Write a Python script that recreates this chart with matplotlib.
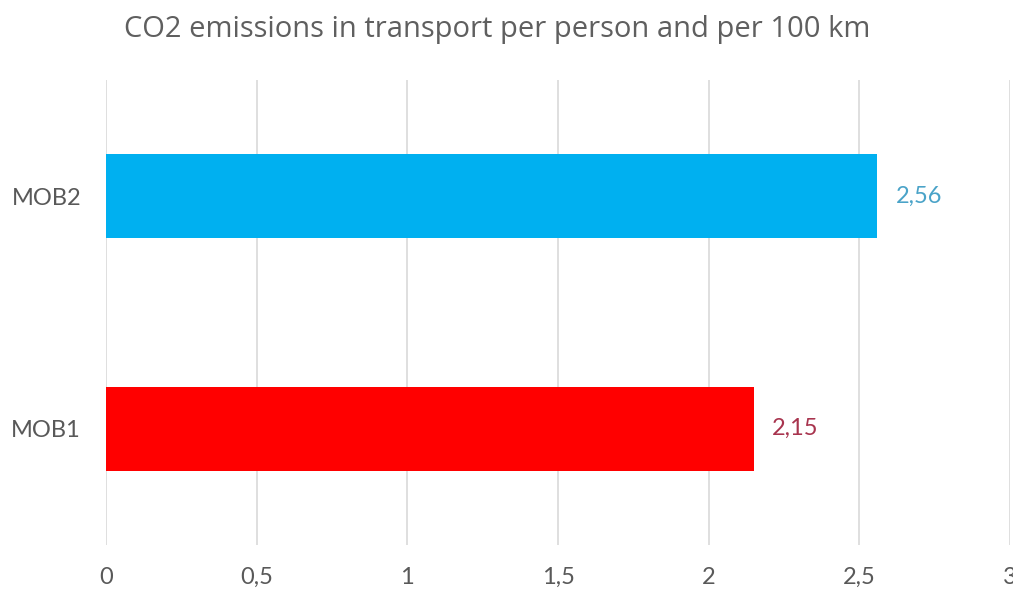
import matplotlib
matplotlib.use("Agg")
import matplotlib.pyplot as plt
from matplotlib.ticker import FuncFormatter

categories = ["MOB1", "MOB2"]
values = [2.15, 2.56]
bar_colors = ["#FF0000", "#00B0F0"]
label_colors = ["#A8344E", "#4AA3C8"]
xticks = [0, 0.5, 1, 1.5, 2, 2.5, 3]
title = "CO2 emissions in transport per person and per 100 km"

plt.rcParams['font.family'] = ['Lato', 'DejaVu Sans']

fig = plt.figure(figsize=(10.13, 5.90), dpi=100)
ax = fig.add_axes([106/1013, 45/590, (1010-106)/1013, 465/590])

ypos = list(range(len(categories)))
ax.barh(ypos, values, height=0.36, color=bar_colors, zorder=3)
for y, v, c in zip(ypos, values, label_colors):
    ax.text(v + 0.06, y, f"{v:.2f}".replace(".", ","), va="center", ha="left",
            color=c, fontsize=17)

ax.set_xlim(0, 3)
ax.set_ylim(-0.5, 1.5)
ax.set_xticks(xticks)
ax.xaxis.set_major_formatter(FuncFormatter(lambda x, p: f"{x:g}".replace(".", ",")))
ax.set_yticks(ypos)
ax.set_yticklabels(categories)
ax.tick_params(axis="both", length=0, colors="#595959", labelsize=17)
ax.tick_params(axis="x", pad=16)
ax.tick_params(axis="y", pad=18)
ax.grid(axis="x", color="#D9D9D9", linewidth=1.2, zorder=0)
for s in ax.spines.values():
    s.set_visible(False)

fig.text(0.491, 1 - 30/590, title, ha="center", va="center", color="#5f5f5f",
         fontsize=21, family=['Open Sans', 'DejaVu Sans'])

fig.savefig("out.png", dpi=100)
